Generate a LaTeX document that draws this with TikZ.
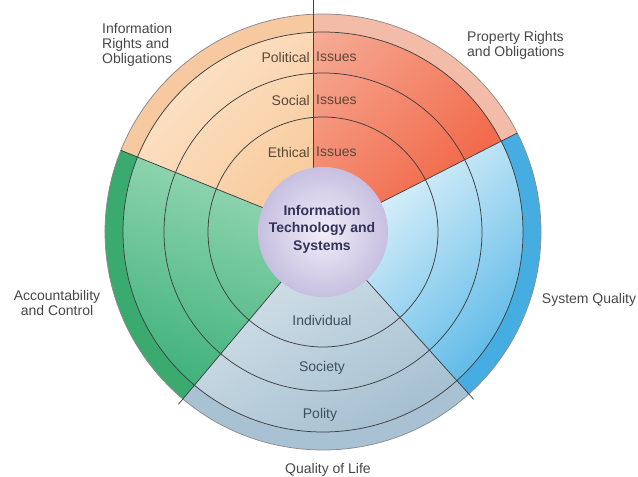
\documentclass[tikz,border=0pt]{standalone}
\usepackage{fontspec}
\setmainfont{Liberation Sans}
\usepackage{xcolor}
\usepackage{tikz}

\definecolor{infolight}{HTML}{FCE4CB}
\definecolor{infodark}{HTML}{F6BD82}
\definecolor{infoband}{HTML}{F6C9A1}
\definecolor{proplight}{HTML}{F7C8B6}
\definecolor{propdark}{HTML}{F26B4C}
\definecolor{propband}{HTML}{F3BCA8}
\definecolor{syslight}{HTML}{DDF1FA}
\definecolor{sysdark}{HTML}{58B7E7}
\definecolor{sysband}{HTML}{46ADE2}
\definecolor{lifelight}{HTML}{CFDEE7}
\definecolor{lifedark}{HTML}{A2BDCE}
\definecolor{lifeband}{HTML}{A8C2D3}
\definecolor{acclight}{HTML}{94D6B3}
\definecolor{accdark}{HTML}{3FB27A}
\definecolor{accband}{HTML}{3AAA6E}
\definecolor{corelight}{HTML}{F1EEF8}
\definecolor{coredark}{HTML}{C7BFE0}
\definecolor{coreink}{HTML}{33335A}
\definecolor{lifeink}{HTML}{3E4F5E}
\definecolor{ringink}{HTML}{5A4838}
\definecolor{ringline}{HTML}{404040}

% start angle, end angle, inner radius, outer radius, options
\newcommand{\ringsector}[5]{%
  \path[#5] (#1:#3) arc[start angle=#1, end angle=#2, radius=#3]
    -- (#2:#4) arc[start angle=#2, end angle=#1, radius=#4] -- cycle;}

\tikzset{
  outlabel/.style={font=\fontsize{14}{15}\selectfont, text=black!72, inner sep=0pt},
  ringtext/.style={font=\fontsize{14}{15}\selectfont, text=ringink, inner sep=0pt},
  lifetext/.style={font=\fontsize{14}{15}\selectfont, text=lifeink, inner sep=0pt},
  coretext/.style={font=\fontsize{14}{17.5}\selectfont\bfseries, text=coreink, align=center, inner sep=0pt},
  ringarc/.style={draw=ringline, line width=0.75pt},
}

\begin{document}
\begin{tikzpicture}[x=1pt,y=1pt]
	\useasboundingbox (-323,-245) rectangle (315,232);
	%
	% sectors
	\ringsector{27}{158}{60}{200}{top color=proplight, bottom color=propdark, shading angle=45}
	\ringsector{27}{158}{200}{218}{fill=propband}
	\begin{scope}
		\clip (-10,-10) rectangle (-240,240);
		\ringsector{27}{158}{60}{200}{top color=infolight, bottom color=infodark, shading angle=45}
		\ringsector{27}{158}{200}{218}{fill=infoband}
	\end{scope}
	\ringsector{-48}{27}{60}{200}{top color=syslight, bottom color=sysdark, shading angle=45}
	\ringsector{-48}{27}{200}{218}{fill=sysband}
	\ringsector{-130}{-48}{60}{200}{top color=lifelight, bottom color=lifedark, shading angle=30}
	\ringsector{-130}{-48}{200}{218}{fill=lifeband}
	\ringsector{158}{230}{60}{200}{top color=acclight, bottom color=accdark, shading angle=-20}
	\ringsector{158}{230}{200}{218}{fill=accband}
	%
	% rings and borders
	\foreach \r in {115,159,200} {
		\draw[ringarc] (0,0) circle[radius=\r];
	}
	\draw[ringarc, draw=ringline!60] (0,0) circle[radius=218];
	\draw[ringarc] (158:65) -- (158:218);
	\draw[ringarc] (27:65) -- (27:218);
	\draw[ringarc] (-48:65) -- (-48:225);
	\draw[ringarc] (-130:65) -- (-130:225);
	\draw[ringarc] (-10,64) -- (-10,232);
	%
	% core
	\shade[inner color=corelight, outer color=coredark] (0,0) circle[radius=65];
	\node[coretext] (core) at (-1,3) {Information\\Technology and\\Systems};
	%
	\node[ringtext, anchor=east] (politicalL) at (-13,175) {Political};
	\node[ringtext, anchor=west] (politicalR) at (-7,175) {Issues};
	\node[ringtext, anchor=east] (socialL) at (-13,132) {Social};
	\node[ringtext, anchor=west] (socialR) at (-7,132) {Issues};
	\node[ringtext, anchor=east] (ethicalL) at (-13,80) {Ethical};
	\node[ringtext, anchor=west] (ethicalR) at (-7,80) {Issues};
	%
	\node[lifetext] (individual) at (-1,-88) {Individual};
	\node[lifetext] (society) at (-1,-136) {Society};
	\node[lifetext] (polity) at (-3,-183) {Polity};
	%
	\node[outlabel, anchor=west, align=left] (inforights) at (-221,187) {Information\\Rights and\\Obligations};
	\node[outlabel, anchor=west, align=left] (proprights) at (144,187) {Property Rights\\and Obligations};
	\node[outlabel, align=center] (account) at (-266,-71) {Accountability\\and Control};
	\node[outlabel] (sysquality) at (266,-68) {System Quality};
	\node[outlabel] (lifequality) at (5,-238) {Quality of Life};
\end{tikzpicture}
\end{document}
